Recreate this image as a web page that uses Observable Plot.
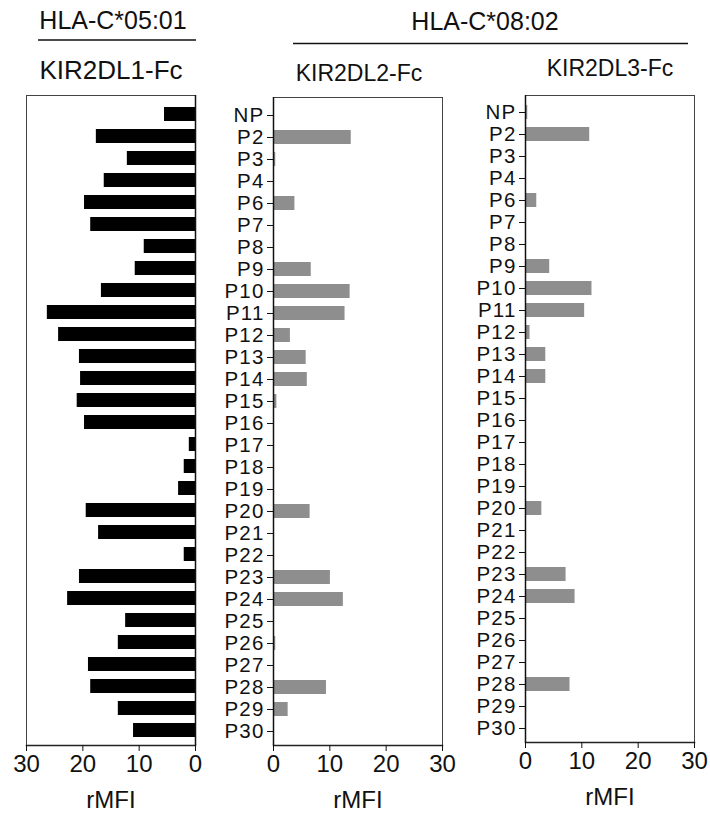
<!DOCTYPE html>
<html>
<head>
<meta charset="utf-8">
<script src="https://cdn.jsdelivr.net/npm/d3@7"></script>
<script src="https://cdn.jsdelivr.net/npm/@observablehq/plot@0.6"></script>
<style>
  body { margin: 0; background: #fff; }
  #fig { position: relative; width: 710px; height: 814px; font-family: Arial, "Liberation Sans", sans-serif; }
  #fig > svg { position: absolute; margin: 0; }
  /* slightly wider peptide labels */
  #fig g[aria-label="y-axis tick label"] text { letter-spacing: 1.2px; }
</style>
</head>
<body>
<div id="fig">
  <svg id="head" width="710" height="90" style="left:0;top:0" font-family="Arial, 'Liberation Sans', sans-serif" fill="#111"></svg>
</div>
<script>
// Peptides on the y axis (top to bottom)
const peptides = ["NP","P2","P3","P4","P6","P7","P8","P9","P10","P11","P12","P13","P14","P15",
  "P16","P17","P18","P19","P20","P21","P22","P23","P24","P25","P26","P27","P28","P29","P30"];

// Binding (rMFI) of each KIR-Fc fusion to the peptide-loaded HLA-C
const kir2dl1 = [5.5, 17.6, 12.1, 16.2, 19.7, 18.6, 9.1, 10.7, 16.7, 26.3, 24.3, 20.6, 20.4, 21.0,
  19.7, 1.1, 2.0, 3.0, 19.4, 17.2, 2.0, 20.6, 22.7, 12.4, 13.7, 19.0, 18.6, 13.7, 11.0];
const kir2dl2 = [0, 13.8, 0.4, 0, 3.8, 0, 0, 6.7, 13.6, 12.7, 3.0, 5.8, 6.0, 0.6,
  0, 0, 0, 0, 6.5, 0, 0, 10.1, 12.4, 0, 0.4, 0, 9.4, 2.6, 0];
const kir2dl3 = [0.4, 11.4, 0.2, 0, 2.0, 0, 0, 4.3, 11.8, 10.5, 0.8, 3.6, 3.6, 0.2,
  0, 0, 0, 0, 2.9, 0, 0, 7.2, 8.8, 0, 0, 0, 7.9, 0.2, 0];

const xTicks = [0, 10, 20, 30];
const alleles = ["HLA-C*05:01", "HLA-C*08:02"];
const receptors = ["KIR2DL1-Fc", "KIR2DL2-Fc", "KIR2DL3-Fc"];

const font = "Arial, 'Liberation Sans', sans-serif";

// Header: allele names with rules, and receptor names
const head = d3.select("#head");
const headText = [
  {t: alleles[0], x: 113, y: 29, s: 25},
  {t: alleles[1], x: 485, y: 30, s: 25},
  {t: receptors[0], x: 111, y: 79, s: 26},
  {t: receptors[1], x: 359, y: 81, s: 23},
  {t: receptors[2], x: 610, y: 76, s: 23}
];
head.selectAll("text").data(headText).join("text")
  .attr("x", d => d.x).attr("y", d => d.y)
  .attr("font-size", d => d.s).attr("text-anchor", "middle")
  .text(d => d.t);
head.append("line").attr("x1", 38).attr("x2", 196).attr("y1", 40).attr("y2", 40).attr("stroke", "#111").attr("stroke-width", 1.5);
head.append("line").attr("x1", 293).attr("x2", 688).attr("y1", 43.5).attr("y2", 43.5).attr("stroke", "#111").attr("stroke-width", 1.5);

function panel({values, fill, reverse, showY, left, top, width, height, mL, mR, mT, mB, insetTop, insetBottom}) {
  const rows = peptides.map((p, i) => ({peptide: p, value: values[i]}));
  const chart = Plot.plot({
    width, height,
    marginLeft: mL, marginRight: mR, marginTop: mT, marginBottom: mB,
    style: {fontFamily: font, background: "transparent", overflow: "visible", color: "#111"},
    x: {domain: [0, 30], reverse},
    y: {domain: peptides, padding: 0.35, insetTop, insetBottom, axis: showY ? undefined : null},
    marks: [
      Plot.frame({stroke: "#444"}),
      Plot.barX(rows, {x: "value", y: "peptide", fill}),
      Plot.frame({anchor: "bottom", stroke: "#222", strokeWidth: 1.5}),
      Plot.ruleX([0], {stroke: "#111", strokeWidth: 1.5}),
      Plot.axisX({ticks: xTicks, tickSize: 6, tickPadding: 3, fontSize: 24,
        label: "rMFI", labelAnchor: "center", labelArrow: "none", labelOffset: 62}),
      showY ? Plot.axisY({tickSize: 6, tickPadding: 3, fontSize: 20.5, label: null}) : null
    ]
  });
  chart.style.position = "absolute";
  chart.style.left = left + "px";
  chart.style.top = top + "px";
  chart.style.maxWidth = "none";
  document.getElementById("fig").appendChild(chart);
}

// KIR2DL1-Fc on HLA-C*05:01, bars grow leftwards
panel({values: kir2dl1, fill: "#000", reverse: true, showY: false,
  left: 0, top: 85, width: 215, height: 729, mL: 26, mR: 20, mT: 10, mB: 69, insetTop: 0, insetBottom: -5});
// KIR2DL2-Fc on HLA-C*08:02
panel({values: kir2dl2, fill: "#8e8e8e", reverse: false, showY: true,
  left: 210, top: 85, width: 250, height: 729, mL: 63, mR: 18, mT: 12, mB: 69, insetTop: 0, insetBottom: -4});
// KIR2DL3-Fc on HLA-C*08:02
panel({values: kir2dl3, fill: "#8e8e8e", reverse: false, showY: true,
  left: 460, top: 85, width: 250, height: 729, mL: 65, mR: 16, mT: 10, mB: 72, insetTop: -1, insetBottom: -4.7});
</script>
</body>
</html>
